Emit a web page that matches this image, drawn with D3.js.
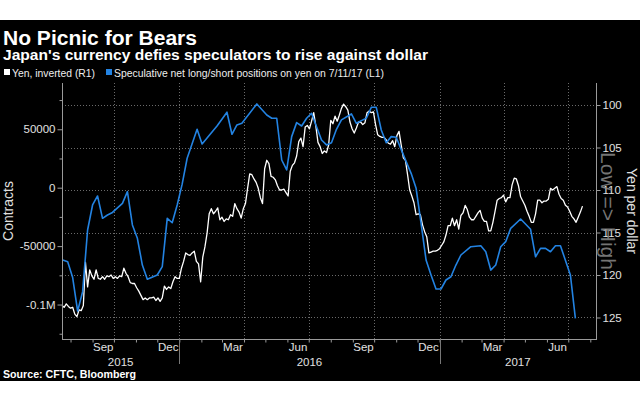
<!DOCTYPE html>
<html><head><meta charset="utf-8">
<script src="https://cdn.jsdelivr.net/npm/d3@7"></script>
<style>
body{margin:0;background:#fff}
svg{display:block}
text{font-family:"Liberation Sans",Arial,sans-serif}
</style>
</head><body>
<svg id="c" width="640" height="400"></svg>
<script>
// ---------- DATA ----------
const titleText = "No Picnic for Bears";
const subtitleText = "Japan's currency defies speculators to rise against dollar";
const legendLabels = ["Yen, inverted (R1)", "Speculative net long/short positions on yen on 7/11/17 (L1)"];
const sourceText = "Source: CFTC, Bloomberg";

// CFTC speculative net positions (contracts), left axis
const blueDates = ["2015-07-21","2015-07-28","2015-08-04","2015-08-11","2015-08-18","2015-08-25","2015-09-01","2015-09-08","2015-09-15","2015-09-22","2015-09-29","2015-10-13","2015-10-20","2015-10-27","2015-11-03","2015-11-10","2015-11-17","2015-12-01","2015-12-08","2015-12-15","2015-12-22","2015-12-29","2016-01-05","2016-01-12","2016-01-26","2016-02-02","2016-02-23","2016-03-08","2016-03-15","2016-03-22","2016-03-29","2016-04-19","2016-05-03","2016-05-10","2016-05-17","2016-05-24","2016-05-31","2016-06-07","2016-06-14","2016-06-21","2016-06-28","2016-07-05","2016-07-12","2016-07-19","2016-07-26","2016-08-02","2016-08-09","2016-08-16","2016-08-30","2016-09-06","2016-09-13","2016-09-20","2016-09-27","2016-10-04","2016-10-11","2016-10-18","2016-10-25","2016-11-01","2016-11-15","2016-11-22","2016-11-29","2016-12-06","2016-12-13","2016-12-20","2016-12-27","2017-01-03","2017-01-10","2017-01-17","2017-01-24","2017-01-31","2017-02-14","2017-02-28","2017-03-07","2017-03-14","2017-03-21","2017-03-28","2017-04-04","2017-04-11","2017-04-25","2017-05-09","2017-05-16","2017-05-23","2017-05-30","2017-06-06","2017-06-13","2017-06-20","2017-07-04","2017-07-11"];
const blueValues = [-61900,-63400,-76900,-105600,-89000,-36200,-14800,-7100,-26200,-23400,-21200,-13400,-3400,-31900,-43300,-66200,-78400,-74700,-67600,-26200,-30000,-14800,3000,25200,50000,37400,52800,64600,45700,53700,55100,71700,62200,59400,59400,23700,15200,43700,55700,52800,59400,63700,52200,40800,36600,38500,50000,58000,63100,55100,57400,59400,68800,68800,49400,38500,43700,43200,22300,12300,-500,-30500,-61900,-74700,-86700,-86700,-79000,-76200,-66200,-57600,-50500,-49700,-54800,-70500,-66200,-50500,-46200,-34800,-26800,-35600,-59100,-51900,-51900,-54800,-49700,-49700,-74700,-111800];

// Yen per dollar (right axis, inverted), sampled every 3 days from yenStart
const yenStart = "2015-07-20";
const yenStepDays = 3;
const yenValues = [123.6,123.8,123.4,123.7,123.9,123.8,124.6,124.9,124.1,124.2,123.6,
118.5,121.4,119.4,120.1,120.5,119.4,120.4,120.5,120.2,120.5,
120.1,120.2,120.0,120.4,120.2,120.4,120.1,120.2,119.2,119.8,
120.2,120.9,121.0,121.0,121.5,121.9,122.4,122.9,122.7,122.9,
122.7,122.7,122.6,123.0,122.7,123.1,122.7,121.3,121.7,121.4,
121.6,120.8,120.2,120.4,120.4,119.2,118.4,117.4,117.6,117.7,
117.4,117.2,118.4,118.7,120.8,117.9,116.7,115.1,112.8,112.2,
112.8,112.5,112.1,113.5,113.2,113.7,113.4,113.5,112.9,113.1,
111.6,112.2,112.6,113.3,112.2,111.6,109.8,108.1,108.2,108.7,
109.1,109.8,110.9,111.6,107.5,106.5,106.9,108.4,108.5,108.8,
109.5,110.0,110.0,109.9,110.3,110.7,107.8,107.1,106.8,106.0,
104.3,103.9,104.9,102.6,102.4,102.8,101.9,100.9,102.5,104.4,
104.9,105.7,105.4,105.6,104.7,101.8,102.2,101.3,101.9,101.2,
100.4,99.9,100.2,100.6,102.0,102.8,103.3,102.7,102.0,102.0,
102.3,102.1,100.9,100.7,100.9,100.8,102.3,103.5,103.7,103.8,
103.8,104.1,104.5,104.6,104.2,104.9,103.6,103.1,104.7,106.2,
106.5,108.2,110.0,110.7,111.5,112.9,112.8,112.9,114.1,114.9,
115.5,117.4,117.3,117.2,117.2,117.1,116.9,116.5,116.1,115.3,
114.2,114.2,113.3,114.2,113.5,114.6,113.0,112.7,111.8,112.3,
113.2,113.5,113.5,113.1,112.7,112.4,113.3,113.7,113.7,114.8,
114.8,113.8,112.5,111.2,111.0,110.9,110.6,111.4,110.9,110.9,
109.4,108.6,108.7,109.5,110.8,111.3,111.8,112.5,113.1,113.8,
113.8,112.8,111.2,111.2,111.5,111.3,111.3,111.1,109.8,110.0,
109.8,109.6,110.5,111.0,111.2,111.8,112.0,112.5,113.1,113.4,
113.8,113.2,112.6,111.9];

const xDomain = ["2015-07-20","2017-08-09"];
const leftDomain = [-129500, 89600];
const rightDomain = [127.53, 97.41];
const leftTicks = [-100000,-50000,0,50000];
const leftTickLabels = ["-0.1M","-50000","0","50000"];
const leftMinorTicks = [-125000,-75000,-25000,25000,75000];
const rightTicks = [100,105,110,115,120,125];
const labelMonths = ["Sep","Dec","Mar","Jun"];
const yearLabels = ["2015","2016","2017"];
const leftTitle = "Contracts";
const rightTitle = "Yen per dollar";
const directionText = "Low => High";

// ---------- LAYOUT ----------
const L = 62, R = 596, T = 83, B = 339;
const BLUE = "#2383e2";
const parse = d3.timeParse("%Y-%m-%d");
const svg = d3.select("#c");

svg.append("rect").attr("x",0).attr("y",20).attr("width",640).attr("height",361).attr("fill","#000");

const x = d3.scaleTime().domain(xDomain.map(parse)).range([L,R]);
const yL = d3.scaleLinear().domain(leftDomain).range([B,T]);
const yR = d3.scaleLinear().domain(rightDomain).range([B,T]);

// titles
svg.append("text").attr("x",3).attr("y",45).text(titleText)
  .attr("fill","#fff").attr("font-weight","bold").attr("font-size",20)
  .attr("textLength",194).attr("lengthAdjust","spacingAndGlyphs");
svg.append("text").attr("x",3).attr("y",60).text(subtitleText)
  .attr("fill","#fff").attr("font-weight","bold").attr("font-size",14)
  .attr("textLength",425).attr("lengthAdjust","spacingAndGlyphs");

// legend
const lg = svg.append("g");
lg.append("rect").attr("x",4).attr("y",69).attr("width",6).attr("height",6).attr("fill","#fff");
lg.append("text").attr("x",12).attr("y",77).text(legendLabels[0]).attr("fill","#eee").attr("font-size",10.5)
  .attr("textLength",83).attr("lengthAdjust","spacingAndGlyphs");
lg.append("rect").attr("x",106).attr("y",69).attr("width",6).attr("height",6).attr("fill",BLUE);
lg.append("text").attr("x",114).attr("y",77).text(legendLabels[1]).attr("fill","#eee").attr("font-size",10.5)
  .attr("textLength",270).attr("lengthAdjust","spacingAndGlyphs");

// grid
const grid = svg.append("g").attr("stroke","#6a6a6a").attr("stroke-width",1).attr("stroke-dasharray","1,2");
rightTicks.forEach(v => grid.append("line").attr("x1",L).attr("x2",R).attr("y1",Math.round(yR(v))+0.5).attr("y2",Math.round(yR(v))+0.5));
x.ticks(d3.timeMonth.every(3)).forEach(d => grid.append("line").attr("x1",Math.round(x(d))+0.5).attr("x2",Math.round(x(d))+0.5).attr("y1",T).attr("y2",B));

// yen line (white)
const yenData = yenValues.map((v,i) => ({d: d3.timeDay.offset(parse(yenStart), i*yenStepDays), v}));
svg.append("path").datum(yenData)
  .attr("d", d3.line().x(p=>x(p.d)).y(p=>yR(p.v)))
  .attr("fill","none").attr("stroke","#fff").attr("stroke-width",1.3).attr("stroke-linejoin","round");

// positions line (blue)
const blueData = blueDates.map((d,i)=>({d: parse(d), v: blueValues[i]}));
svg.append("path").datum(blueData)
  .attr("d", d3.line().x(p=>x(p.d)).y(p=>yL(p.v)))
  .attr("fill","none").attr("stroke",BLUE).attr("stroke-width",1.6).attr("stroke-linejoin","round");

// axes
const axisColor = "#9a9a9a";
const labelColor = "#e0e0e0";
const leftAxis = svg.append("g").attr("transform",`translate(${L+0.5},0)`)
  .call(d3.axisLeft(yL).tickValues(leftTicks).tickFormat((d,i)=>leftTickLabels[i]).tickSize(5).tickPadding(2));
const leftMinor = svg.append("g").attr("transform",`translate(${L+0.5},0)`)
  .call(d3.axisLeft(yL).tickValues(leftMinorTicks).tickFormat("").tickSize(3));
const rightAxis = svg.append("g").attr("transform",`translate(${R+0.5},0)`)
  .call(d3.axisRight(yR).tickValues(rightTicks).tickSize(4).tickPadding(2));
const bottomAxis = svg.append("g").attr("transform",`translate(0,${B+0.5})`)
  .call(d3.axisBottom(x).ticks(d3.timeMonth.every(1)).tickFormat("").tickSize(3));
[leftAxis,leftMinor,rightAxis,bottomAxis].forEach(g=>{
  g.select(".domain").remove();
  g.selectAll(".tick line").attr("stroke",axisColor);
  g.selectAll("text").attr("fill",labelColor).attr("font-size",11.5).attr("font-family","Liberation Sans, Arial, sans-serif");
});
svg.append("line").attr("x1",L+0.5).attr("x2",L+0.5).attr("y1",T).attr("y2",B+1).attr("stroke",axisColor);
svg.append("line").attr("x1",R+0.5).attr("x2",R+0.5).attr("y1",T).attr("y2",B+1).attr("stroke",axisColor);
svg.append("line").attr("x1",L).attr("x2",R+1).attr("y1",B+0.5).attr("y2",B+0.5).attr("stroke",axisColor);

// month labels (centered in month)
const fmtMonth = d3.timeFormat("%b");
x.ticks(d3.timeMonth.every(1)).forEach(d=>{
  const m = fmtMonth(d);
  if (!labelMonths.includes(m)) return;
  const mid = new Date((+d + +d3.timeMonth.offset(d,1))/2);
  svg.append("text").attr("x",x(mid)).attr("y",351).attr("text-anchor","middle")
    .attr("fill",labelColor).attr("font-size",11.5).text(m);
});
// years
const [d0,d1] = x.domain();
yearLabels.forEach(y=>{
  const ys = parse(y+"-01-01"), ye = parse((+y+1)+"-01-01");
  const a = Math.max(+ys,+d0), b = Math.min(+ye,+d1);
  svg.append("text").attr("x",(x(new Date(a))+x(new Date(b)))/2).attr("y",366).attr("text-anchor","middle")
    .attr("fill",labelColor).attr("font-size",11.5).text(y);
  if (+ys > +d0) svg.append("line").attr("x1",Math.round(x(ys))+0.5).attr("x2",Math.round(x(ys))+0.5)
    .attr("y1",B).attr("y2",364).attr("stroke","#777");
});

// axis titles
svg.append("text").attr("transform",`translate(13,211) rotate(-90)`).attr("text-anchor","middle")
  .attr("fill",labelColor).attr("font-size",14).text(leftTitle);
svg.append("text").attr("transform",`translate(627,211) rotate(90)`).attr("text-anchor","middle")
  .attr("fill",labelColor).attr("font-size",14).text(rightTitle);
svg.append("text").attr("transform",`translate(601,211) rotate(90)`).attr("text-anchor","middle")
  .attr("fill","#8a8a8a").attr("fill-opacity",0.85).attr("font-size",21).text(directionText);

// source
svg.append("text").attr("x",3).attr("y",378).text(sourceText).attr("fill","#fff")
  .attr("font-weight","bold").attr("font-size",10.5).attr("textLength",133).attr("lengthAdjust","spacingAndGlyphs");
</script>
</body></html>
